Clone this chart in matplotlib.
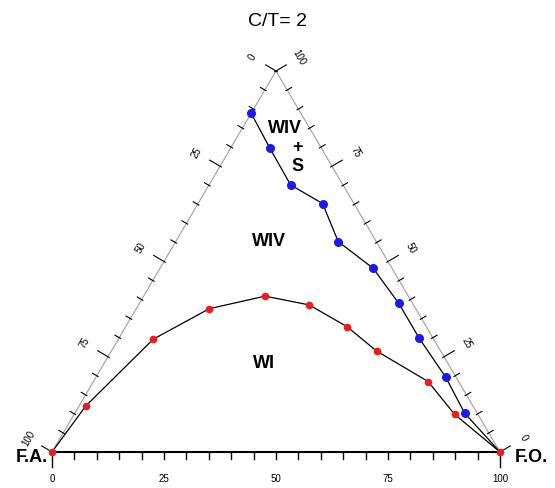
import numpy as np
import matplotlib
matplotlib.use("Agg")
import matplotlib.pyplot as plt

plt.rcParams['font.family'] = ['Liberation Sans', 'DejaVu Sans']

# Compositions in % : F.O. (bottom axis), top component (right axis); F.A. is the rest
blue_fo = [0.0, 8.8, 18.2, 27.8, 36.3, 47.6, 57.9, 67.1, 78.1, 87.0]
blue_t = [88.9, 79.7, 70.1, 65.2, 55.2, 48.2, 39.0, 29.8, 19.6, 10.2]

red_fo = [0.0, 1.5, 7.8, 16.3, 27.1, 38.1, 49.4, 59.2, 74.7, 84.9, 100.0]
red_t = [0.0, 12.1, 29.6, 37.6, 40.9, 38.6, 32.9, 26.5, 18.5, 9.9, 0.0]

# the blue boundary runs down into the F.O. corner
corner_fo, corner_t = 100.0, 0.0

tick_steps = list(range(0, 101, 5))
tick_labels = [0, 25, 50, 75, 100]

SQ = np.sqrt(3) / 2
SX, SY = 4.48, 4.40          # pixels per data unit
W, H = 555, 488
X0, Y0 = 52, 452             # pixel position of the F.A. corner


def cart(fo, t):
    fo = np.asarray(fo, float)
    t = np.asarray(t, float)
    return fo + t / 2, t * SQ


def shift(x, y, dx_px, dy_px):
    return x + dx_px / SX, y + dy_px / SY


fig = plt.figure(figsize=(W / 100, H / 100), dpi=100)
ax = fig.add_axes([0, 0, 1, 1])
ax.set_xlim(-X0 / SX, (W - X0) / SX)
ax.set_ylim((Y0 - H) / SY, Y0 / SY)
ax.axis('off')

# triangle frame
ax.plot([0, 50], [0, 100 * SQ], color='#a0a0a0', lw=0.8)
ax.plot([50, 100], [100 * SQ, 0], color='#a0a0a0', lw=0.8)
ax.plot([0, 100], [0, 0], color='black', lw=1.5)

nl = (-0.862, 0.507)   # outward normal of the left side (pixel space)
nr = (0.862, 0.507)    # outward normal of the right side

for v in tick_steps:
    major = v in tick_labels
    # bottom: F.O.
    L = 15 if v in (0, 100) else 7
    ax.plot([v, v], [0, -L / SY], color='black', lw=1.0)
    # left side: F.A.
    x, y = cart(0, 100 - v)
    L = 12 if major else 5
    xa, ya = shift(x, y, -1.5 * nl[0], -1.5 * nl[1])
    xb, yb = shift(x, y, L * nl[0], L * nl[1])
    ax.plot([xa, xb], [ya, yb], color='black', lw=0.8)
    # right side: top component
    x, y = cart(100 - v, v)
    xa, ya = shift(x, y, -1.5 * nr[0], -1.5 * nr[1])
    xb, yb = shift(x, y, L * nr[0], L * nr[1])
    ax.plot([xa, xb], [ya, yb], color='black', lw=0.8)

tk = dict(fontsize=7, color='black', ha='center', va='center')
for v in tick_labels:
    ax.text(*shift(v, 0, 0, -27), str(v), **tk)
    x, y = cart(0, 100 - v)
    ax.text(*shift(x, y, 27 * nl[0], 27 * nl[1]), str(v), rotation=60, **tk)
    x, y = cart(100 - v, v)
    ax.text(*shift(x, y, 27 * nr[0], 27 * nr[1]), str(v), rotation=-60, **tk)

# boundary curves
rx, ry = cart(red_fo, red_t)
ax.plot(rx, ry, color='black', lw=0.9, zorder=3)
ax.plot(rx, ry, 'o', color='#ee1c1c', ms=5.5, mec='none', zorder=4)

bx, by = cart(blue_fo + [corner_fo], blue_t + [corner_t])
ax.plot(bx, by, color='black', lw=0.9, zorder=3)
bx, by = cart(blue_fo, blue_t)
ax.plot(bx, by, 'o', color='#1a1aee', ms=6.5, mec='none', zorder=5)

# region labels
lab = dict(fontsize=13, fontweight='bold', ha='center', va='center')
ax.text(*cart(9.5, 85.0), 'WIV', **lab)
ax.text(*cart(14.9, 80.0), '+', **lab)
ax.text(*cart(17.5, 74.8), 'S', **lab)
ax.text(*cart(20.8, 55.2), 'WIV', **lab)
ax.text(*cart(35.8, 23.1), 'WI', **lab)

# corner names and title
ax.text(*shift(0, 0, -4, -6), 'F.A.', fontsize=13, fontweight='bold',
        ha='right', va='center')
ax.text(*shift(100, 0, 15, -6), 'F.O.', fontsize=13, fontweight='bold',
        ha='left', va='center')
fig.text(277 / W, 1 - 22 / H, 'C/T= 2', fontsize=14, ha='center', va='center')

fig.savefig('out.png', dpi=100)
